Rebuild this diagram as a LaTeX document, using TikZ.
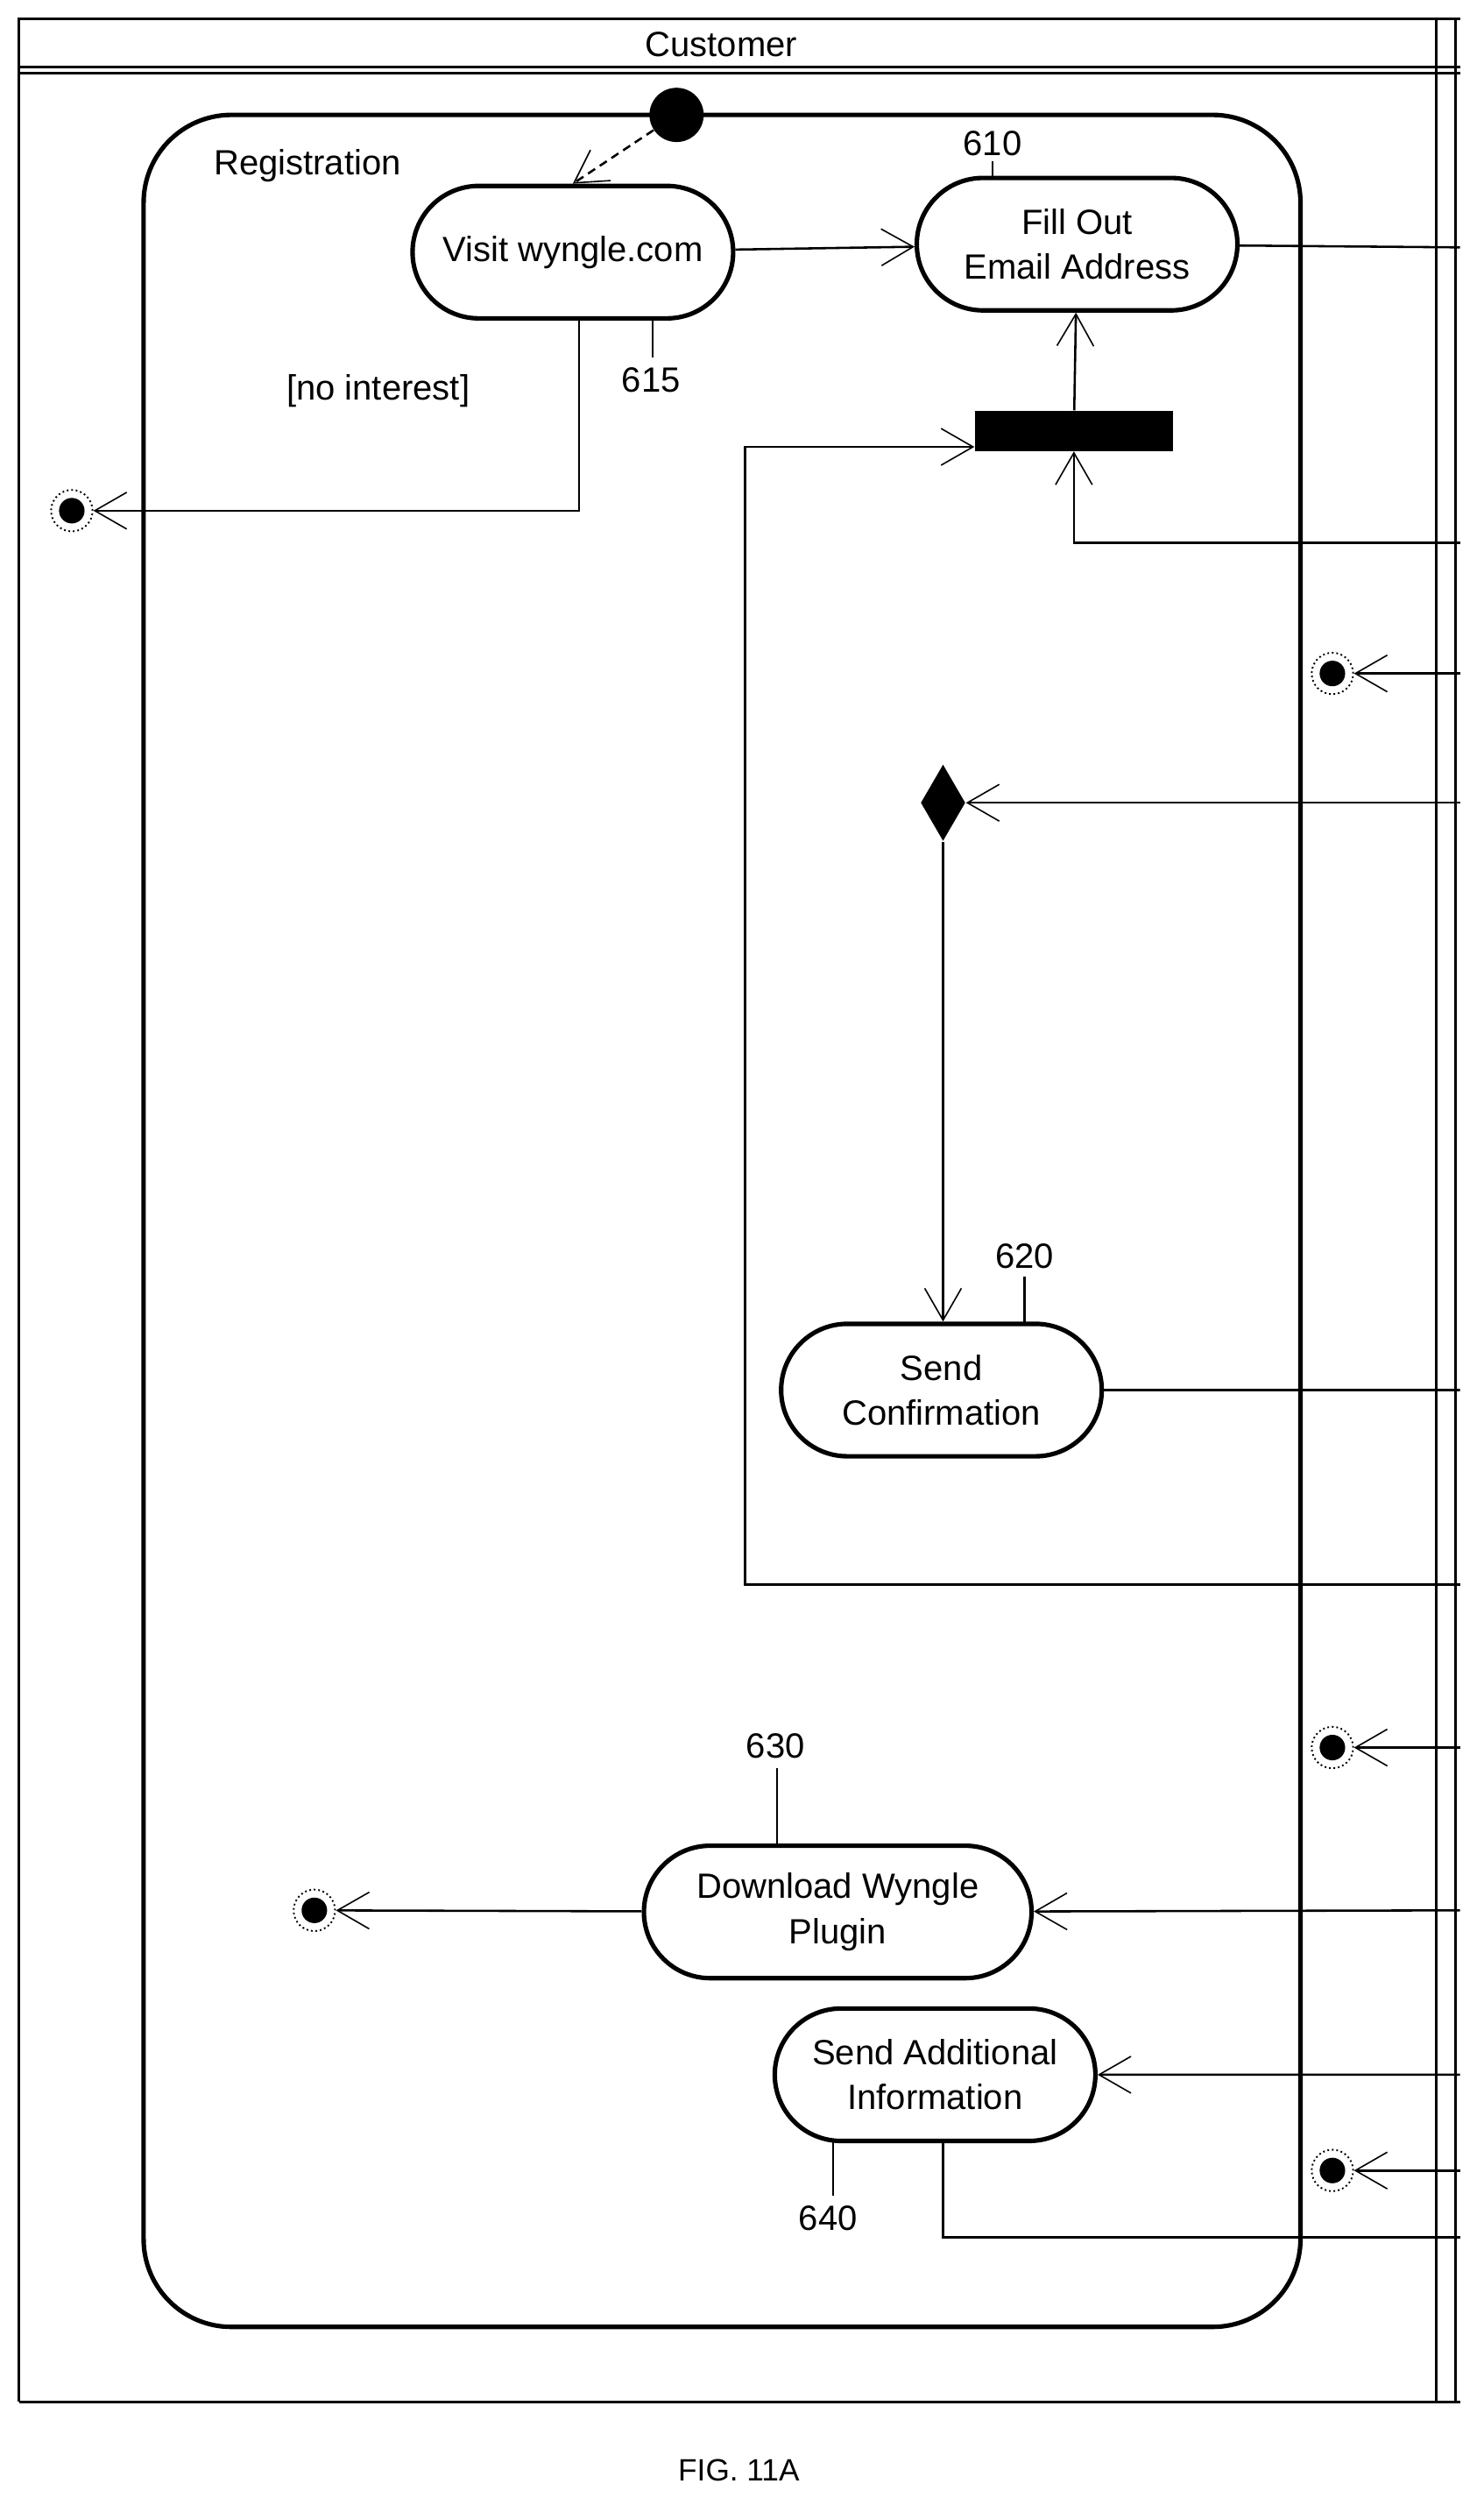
\documentclass[tikz,border=0pt]{standalone}
\usepackage{fontspec}
\setmainfont{Liberation Sans}
\usetikzlibrary{arrows.meta,shapes.misc,shapes.geometric}
\tikzstyle{activity}=[rounded rectangle,draw,line width=1.6pt,minimum width=4.16cm,minimum height=1.66cm,align=center,inner sep=2pt,font=\fontsize{12.5}{16}\selectfont]
\tikzstyle{final}=[circle,draw,densely dotted,line width=0.6pt,minimum size=0.52cm,inner sep=0pt,path picture={\fill (path picture bounding box.center) circle (0.16cm);}]
\tikzstyle{edge}=[draw,line width=0.8pt]
\tikzstyle{flow}=[edge,-{Straight Barb[length=0.4cm,width=0.46cm,line width=0.5pt]}]
\tikzstyle{label}=[font=\fontsize{12.5}{15}\selectfont,inner sep=1pt]

\begin{document}
\begin{tikzpicture}[x=0.02cm,y=-0.02cm]
    \useasboundingbox (0,0) rectangle (930,1574);
    % swimlane frame
    \draw[line width=0.9pt] (12,1505) -- (12,12) -- (915,12);
    \draw[line width=0.9pt] (12,42) -- (915,42);
    \draw[line width=0.9pt] (12,46) -- (915,46);
    \draw[line width=0.9pt] (12,1505) -- (915,1505);
    \draw[line width=0.9pt] (900,12) -- (900,1505);
    \draw[line width=0.9pt] (912,12) -- (912,1505);
    \node[label] (lane) at (452,28) {Customer};

    % composite state
    \draw[line width=1.6pt,rounded corners=1.1cm] (90,72) rectangle (815,1458);
    \node[label,anchor=west] (reg) at (132,104) {Registration};
    \node[circle,fill=black,minimum size=0.68cm,inner sep=0pt] (init) at (424,72) {};

    % activities
    \node[activity] (visit) at (359,158) {Visit wyngle.com};
    \node[activity] (fill) at (675,153) {Fill Out\\Email Address};
    \node[activity] (conf) at (590,871) {Send\\Confirmation};
    \node[activity,minimum width=5cm] (plugin) at (525,1198) {Download Wyngle\\Plugin};
    \node[activity] (info) at (586,1300) {Send Additional\\Information};
    \node[fill=black,minimum width=2.48cm,minimum height=0.5cm,inner sep=0pt] (join) at (673,270) {};
    \node[diamond,fill=black,minimum width=0.56cm,minimum height=0.96cm,inner sep=0pt,aspect=0.6] (dec) at (591,503) {};

    % final nodes
    \foreach \name/\pos in {f1/{(45,320)}, f2/{(835,422)}, f3/{(835,1095)}, f4/{(197,1197)}, f5/{(835,1360)}}
        \node[final] (\name) at \pos {};

    % reference numerals
    \node[label] (n610) at (622,90) {610};
    \node[label] (n615) at (408,238) {615};
    \node[label] (n620) at (642,787) {620};
    \node[label] (n630) at (486,1094) {630};
    \node[label] (n640) at (519,1390) {640};
    \node[label] (guard) at (237,245) {[no interest]};
    \draw[edge] (622,101) -- (622,112);
    \draw[edge] (409,200) -- (409,224);
    \draw[edge] (642,800) -- (642,830);
    \draw[edge] (487,1108) -- (487,1156);
    \draw[edge] (522,1341) -- (522,1376);

    % right edge coordinates
    \foreach \name/\y in {r1/155, r2/340, r3/422, r4/503, r5/871, r6/993, r7/1095, r8/1197, r9/1300, r10/1360, r11/1402}
        \coordinate (\name) at (915,\y);

    % transitions
    \path[flow,densely dashed] (init) -- (visit.north);
    \path[flow] (visit) -- (fill);
    \path[flow] (visit.south -| 363,0) |- (f1);
    \path[flow] (join) -- (fill);
    \path[edge] (fill) -- (r1);
    \path[flow] (r2) -| (join.south);
    \path[flow] (r6) -| (467,280) -- (join.west |- 0,280);
    \path[flow] (r3) -- (f2);
    \path[flow] (r4) -- (dec);
    \path[flow] (dec) -- (conf.north -| dec);
    \path[edge] (conf) -- (r5);
    \path[flow] (r7) -- (f3);
    \path[flow] (r8) -- (plugin);
    \path[flow] (plugin) -- (f4);
    \path[flow] (r9) -- (info);
    \path[flow] (r10) -- (f5);
    \path[edge] (info.south -| 591,0) |- (r11);

    \node[font=\fontsize{11}{13}\selectfont] (fig) at (463,1548) {FIG. 11A};
\end{tikzpicture}
\end{document}
